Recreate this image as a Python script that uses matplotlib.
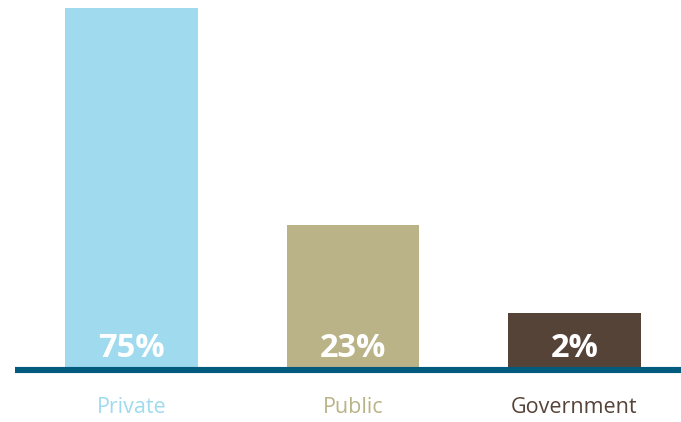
import matplotlib
matplotlib.use("Agg")
import matplotlib.pyplot as plt

# Share of funding by sector
categories = ["Private", "Public", "Government"]
values = [75, 23, 2]
value_labels = ["75%", "23%", "2%"]
bar_colors = ["#A0DAEF", "#BAB388", "#564338"]
label_colors = ["#A0DAEF", "#BAB388", "#564338"]
baseline_color = "#005B7F"

FLOOR = 11  # bars rise from a common floor below zero so small shares stay readable

fig = plt.figure(figsize=(6.81, 4.22), dpi=100)
fig.patch.set_facecolor("white")
ax = fig.add_axes([15 / 681, 55 / 422, 666 / 681, 359 / 422])

x = list(range(len(categories)))
heights = [v + FLOOR for v in values]
ax.bar(x, heights, bottom=-FLOOR, width=0.6, color=bar_colors, zorder=2)

ax.set_xlim(-0.526, 2.481)
ax.set_ylim(-FLOOR, 75)

px = 359 / (75 + FLOOR)  # pixels per data unit
ax.axhline(-FLOOR - 2.9 / px, color=baseline_color, linewidth=4.4,
           solid_capstyle="butt", clip_on=False, zorder=3)

for xi, lab in zip(x, value_labels):
    ax.text(xi, -FLOOR + 10 / px, lab, ha="center", va="baseline",
            color="white", fontsize=23.5, fontweight="bold",
            family="Open Sans", zorder=4)

for xi, cat, col in zip(x, categories, label_colors):
    ax.text(xi, -FLOOR - 46.3 / px, cat, ha="center", va="baseline",
            color=col, fontsize=15.5, family="Open Sans", clip_on=False)

ax.axis("off")
fig.savefig("out.png", dpi=100, facecolor="white")
